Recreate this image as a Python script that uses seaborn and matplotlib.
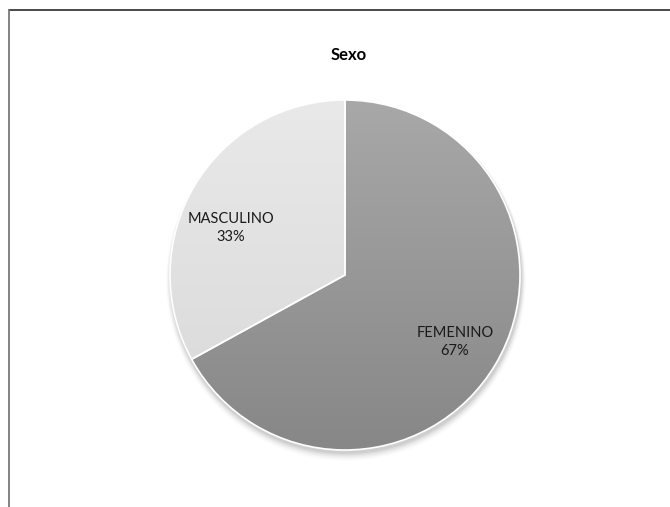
import numpy as np
import matplotlib
matplotlib.use("Agg")
import matplotlib.pyplot as plt
import seaborn as sns
from matplotlib.lines import Line2D
from matplotlib.colors import LinearSegmentedColormap

# Data
categorias = ["FEMENINO", "MASCULINO"]
porcentajes = [67, 33]
titulo = "Sexo"

sns.set_theme(style="white")
plt.rcParams["font.family"] = ["Lato", "DejaVu Sans"]

W, H = 670, 507
fig = plt.figure(figsize=(W / 100, H / 100), dpi=100)
ax = fig.add_axes([0, 0, 1, 1])

cx, cy, r = 345, H - 275, 175

# soft shadow below the pie
for k, a in enumerate(np.linspace(0.05, 0.01, 6)):
    sh = plt.Circle((cx + 1, cy - 3 - k * 0.6), r + 1 + k * 0.8, color="black",
                    alpha=a, lw=0, zorder=0)
    ax.add_patch(sh)

base = sns.color_palette(["#9a9a9a", "#e0e0e0"])
wedges, textos = ax.pie(
    porcentajes, center=(cx, cy), radius=r, startangle=90, counterclock=False,
    colors=base, wedgeprops=dict(edgecolor="white", linewidth=1.2),
    frame=True,
)
ax.set_xlim(0, W)
ax.set_ylim(0, H)
ax.set_aspect("equal")
ax.axis("off")

# vertical shading inside each slice (lighter at the top)
grad = np.linspace(0, 1, 256).reshape(-1, 1)
tonos = [("#a8a8a8", "#878787"), ("#e9e9e9", "#d8d8d8")]
for w, (c_top, c_bot) in zip(wedges, tonos):
    cmap = LinearSegmentedColormap.from_list("g", [c_top, c_bot])
    im = ax.imshow(grad, cmap=cmap, extent=(cx - r, cx + r, cy - r, cy + r),
                   origin="upper", aspect="auto", zorder=1.5)
    im.set_clip_path(w)
    w.set_facecolor("none")
    w.set_zorder(2)

# slice labels
etiquetas_pos = {"FEMENINO": (455, H - 342), "MASCULINO": (231, H - 228)}
for cat, pct in zip(categorias, porcentajes):
    x, y = etiquetas_pos[cat]
    ax.text(x, y, f"{cat}\n{pct}%", ha="center", va="center", fontsize=10.5,
            color="#1a1a1a", linespacing=1.35, zorder=5)

ax.text(349, H - 55, titulo, ha="center", va="center", fontsize=12,
        fontweight="bold", color="black")

# chart area border (top and left edges)
fig.add_artist(Line2D([8.5 / W, 1], [1 - 9.5 / H, 1 - 9.5 / H],
                      transform=fig.transFigure, color="#3a3a3a", lw=1.3))
fig.add_artist(Line2D([8.5 / W, 8.5 / W], [0, 1 - 9.5 / H],
                      transform=fig.transFigure, color="#7a7a7a", lw=1.3))

fig.savefig("out.png", dpi=100)
